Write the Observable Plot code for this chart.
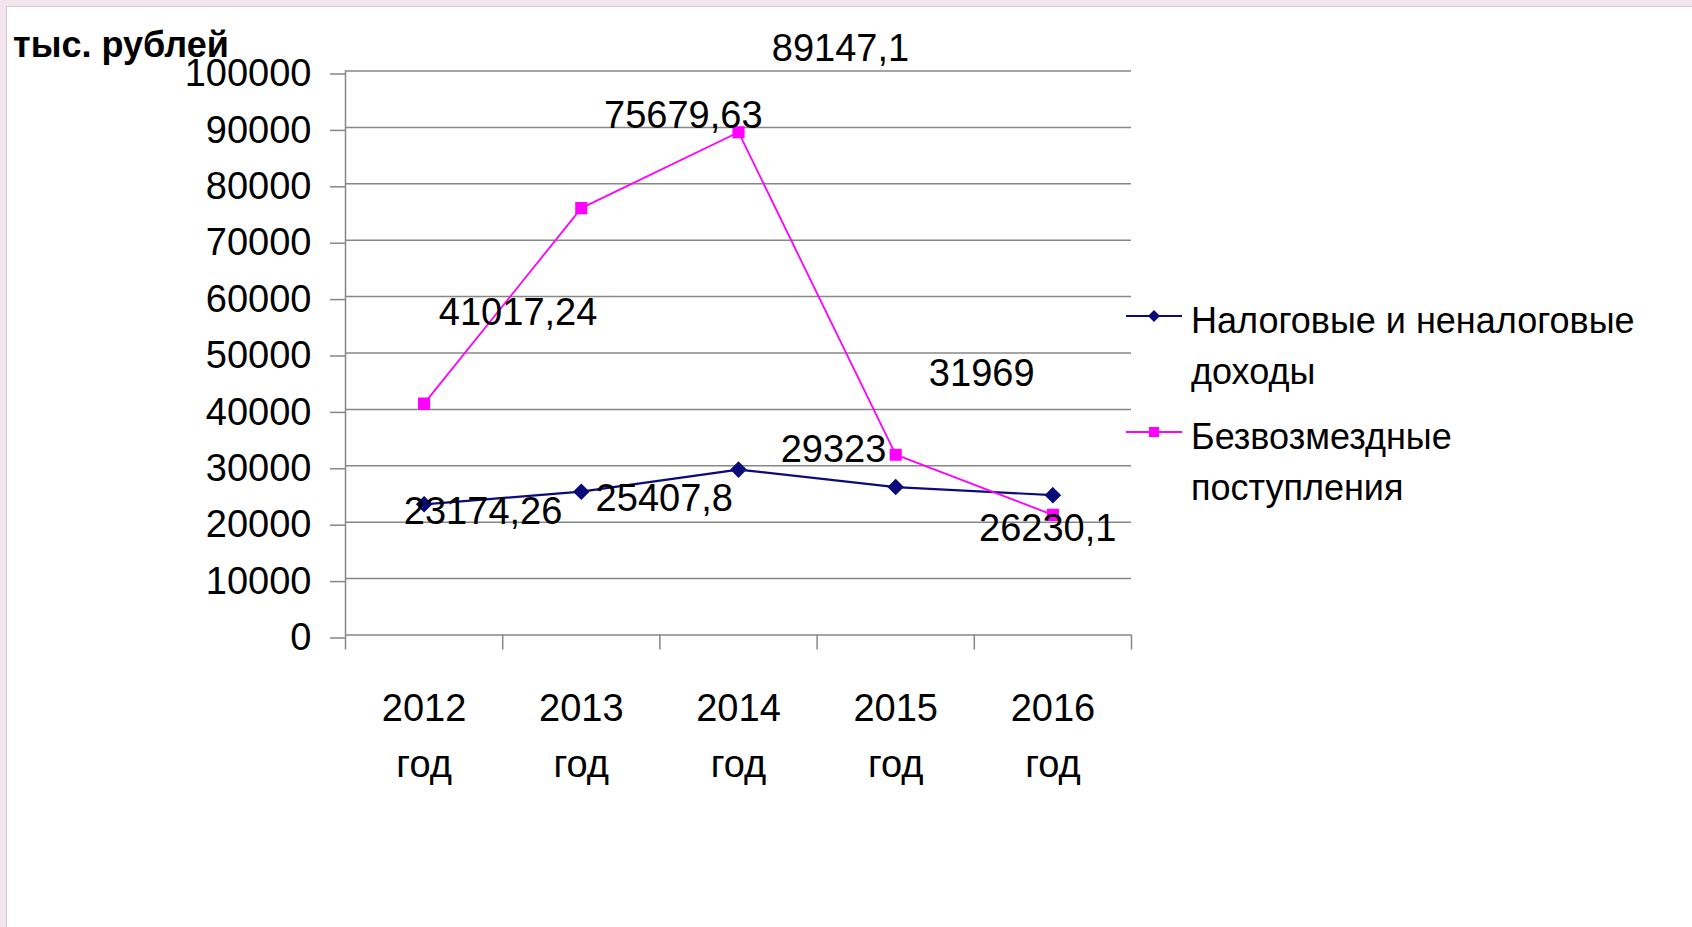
<!DOCTYPE html>
<html>
<head>
<meta charset="utf-8">
<script src="https://cdn.jsdelivr.net/npm/d3@7"></script>
<script src="https://cdn.jsdelivr.net/npm/@observablehq/plot@0.6"></script>
<style>
  html, body { margin: 0; padding: 0; }
  body { width: 1692px; height: 927px; background: #f3e5ee; position: relative; overflow: hidden;
         font-family: "Liberation Sans", Arial, sans-serif; color: #000; }
  #panel { position: absolute; left: 6px; top: 6px; right: 0; bottom: 0; background: #fff;
           border-left: 1px solid #d3c9ce; border-top: 1px solid #d3c9ce; }
  #chart { position: absolute; left: 0; top: 0; }
  #unit { position: absolute; left: 13px; top: 27px; font-size: 36px; font-weight: bold; line-height: 36px; white-space: nowrap; }
  .legtext { position: absolute; left: 1191px; font-size: 36px; line-height: 51px; white-space: nowrap; }
  .swatch { position: absolute; left: 1124px; }
</style>
</head>
<body>
<div id="panel"></div>
<div id="chart"></div>
<div id="unit"></div>
<div id="legend"></div>
<script>
// ---- data ----
const years = [2012, 2013, 2014, 2015, 2016];
const yearWord = "год";
const unitLabel = "тыс. рублей";
const seriesNames = ["Налоговые и неналоговые доходы", "Безвозмездные поступления"];
const taxValues = [23174.26, 25407.8, 29323, 26230.1, 24800];
const grantValues = [41017.24, 75679.63, 89147.1, 31969, 21300];
const taxLabels = ["23174,26", "25407,8", "29323", "26230,1", null];
const grantLabels = ["41017,24", "75679,63", "89147,1", "31969", null];
const yTicks = [0, 10000, 20000, 30000, 40000, 50000, 60000, 70000, 80000, 90000, 100000];

// ---- styling / layout ----
const navy = "#0b0b7a";
const magenta = "#ff00ff";
const gridColor = "#878787";
const FS = 38;
// label offsets (px) relative to each point, as placed in the source chart
const taxLabelOffsets = [[59, 8], [83, 7], [95, -20], [152, 42]];
const grantLabelOffsets = [[94, -91], [102, -92], [102, -83], [86, -81]];

const tax = years.map((year, i) => ({year, value: taxValues[i], label: taxLabels[i]}));
const grant = years.map((year, i) => ({year, value: grantValues[i], label: grantLabels[i]}));
const bounds = years.map(y => y - 0.5).concat([years[years.length - 1] + 0.5]);

function labelMarks(rows, offsets) {
  return rows.filter(r => r.label != null).map((r, i) =>
    Plot.text([r], {x: "year", y: "value", text: "label", dx: offsets[i][0], dy: offsets[i][1],
                    fontSize: FS, fill: "#000"}));
}

const chart = Plot.plot({
  width: 1692,
  height: 927,
  marginLeft: 345,
  marginRight: 561,
  marginTop: 70.5,
  marginBottom: 292.5,
  style: {background: "transparent", fontFamily: "'Liberation Sans', Arial, sans-serif", overflow: "visible"},
  x: {type: "linear", domain: [bounds[0], bounds[bounds.length - 1]], label: null},
  y: {domain: [0, 100000], label: null},
  marks: [
    Plot.gridY(yTicks, {stroke: gridColor, strokeOpacity: 1, strokeWidth: 1.5}),
    Plot.axisY(yTicks, {tickSize: 15, tickPadding: 19, tickFormat: d => String(d), fontSize: FS,
                        stroke: gridColor, strokeWidth: 1.5, fill: "#000", label: null, dy: 3}),
    Plot.ruleX([bounds[0]], {stroke: gridColor, strokeWidth: 1.5}),
    Plot.axisX(bounds, {tickSize: 15, tickFormat: () => "", stroke: gridColor, strokeWidth: 1.5, label: null}),
    Plot.axisX(years, {tickSize: 0, tickPadding: 46, tickFormat: d => `${d}\n${yearWord}`,
                       lineHeight: 1.47, fontSize: FS, fill: "#000", label: null}),
    Plot.line(tax, {x: "year", y: "value", stroke: navy, strokeWidth: 2.2}),
    Plot.dot(tax, {x: "year", y: "value", symbol: "diamond2", r: 6.5, fill: navy, stroke: navy}),
    Plot.line(grant, {x: "year", y: "value", stroke: magenta, strokeWidth: 1.8}),
    Plot.dot(grant, {x: "year", y: "value", symbol: "square", r: 6, fill: magenta, stroke: magenta}),
    ...labelMarks(tax, taxLabelOffsets),
    ...labelMarks(grant, grantLabelOffsets)
  ]
});
document.getElementById("chart").append(chart);
document.getElementById("unit").textContent = unitLabel;

// legend
function splitName(name) {
  const w = name.split(" ");
  const last = w.pop();
  return [w.join(" "), last];
}
const legend = document.getElementById("legend");
const legItems = [
  {name: seriesNames[0], color: navy, shape: "diamond", top: 295, width: 2.2},
  {name: seriesNames[1], color: magenta, shape: "square", top: 411, width: 1.8}
];
legItems.forEach(it => {
  const sw = document.createElementNS("http://www.w3.org/2000/svg", "svg");
  sw.setAttribute("class", "swatch");
  sw.setAttribute("width", 60);
  sw.setAttribute("height", 20);
  sw.style.top = (it.top + 11) + "px";
  const shape = it.shape === "diamond"
    ? `<polygon points="30,4 36,10 30,16 24,10" fill="${it.color}"/>`
    : `<rect x="25" y="5" width="10" height="10" fill="${it.color}"/>`;
  sw.innerHTML = `<line x1="2" x2="58" y1="10" y2="10" stroke="${it.color}" stroke-width="${it.width}"/>` + shape;
  legend.append(sw);
  const t = document.createElement("div");
  t.className = "legtext";
  t.style.top = it.top + "px";
  const [a, b] = splitName(it.name);
  t.innerHTML = `${a}<br>${b}`;
  legend.append(t);
});
</script>
</body>
</html>
